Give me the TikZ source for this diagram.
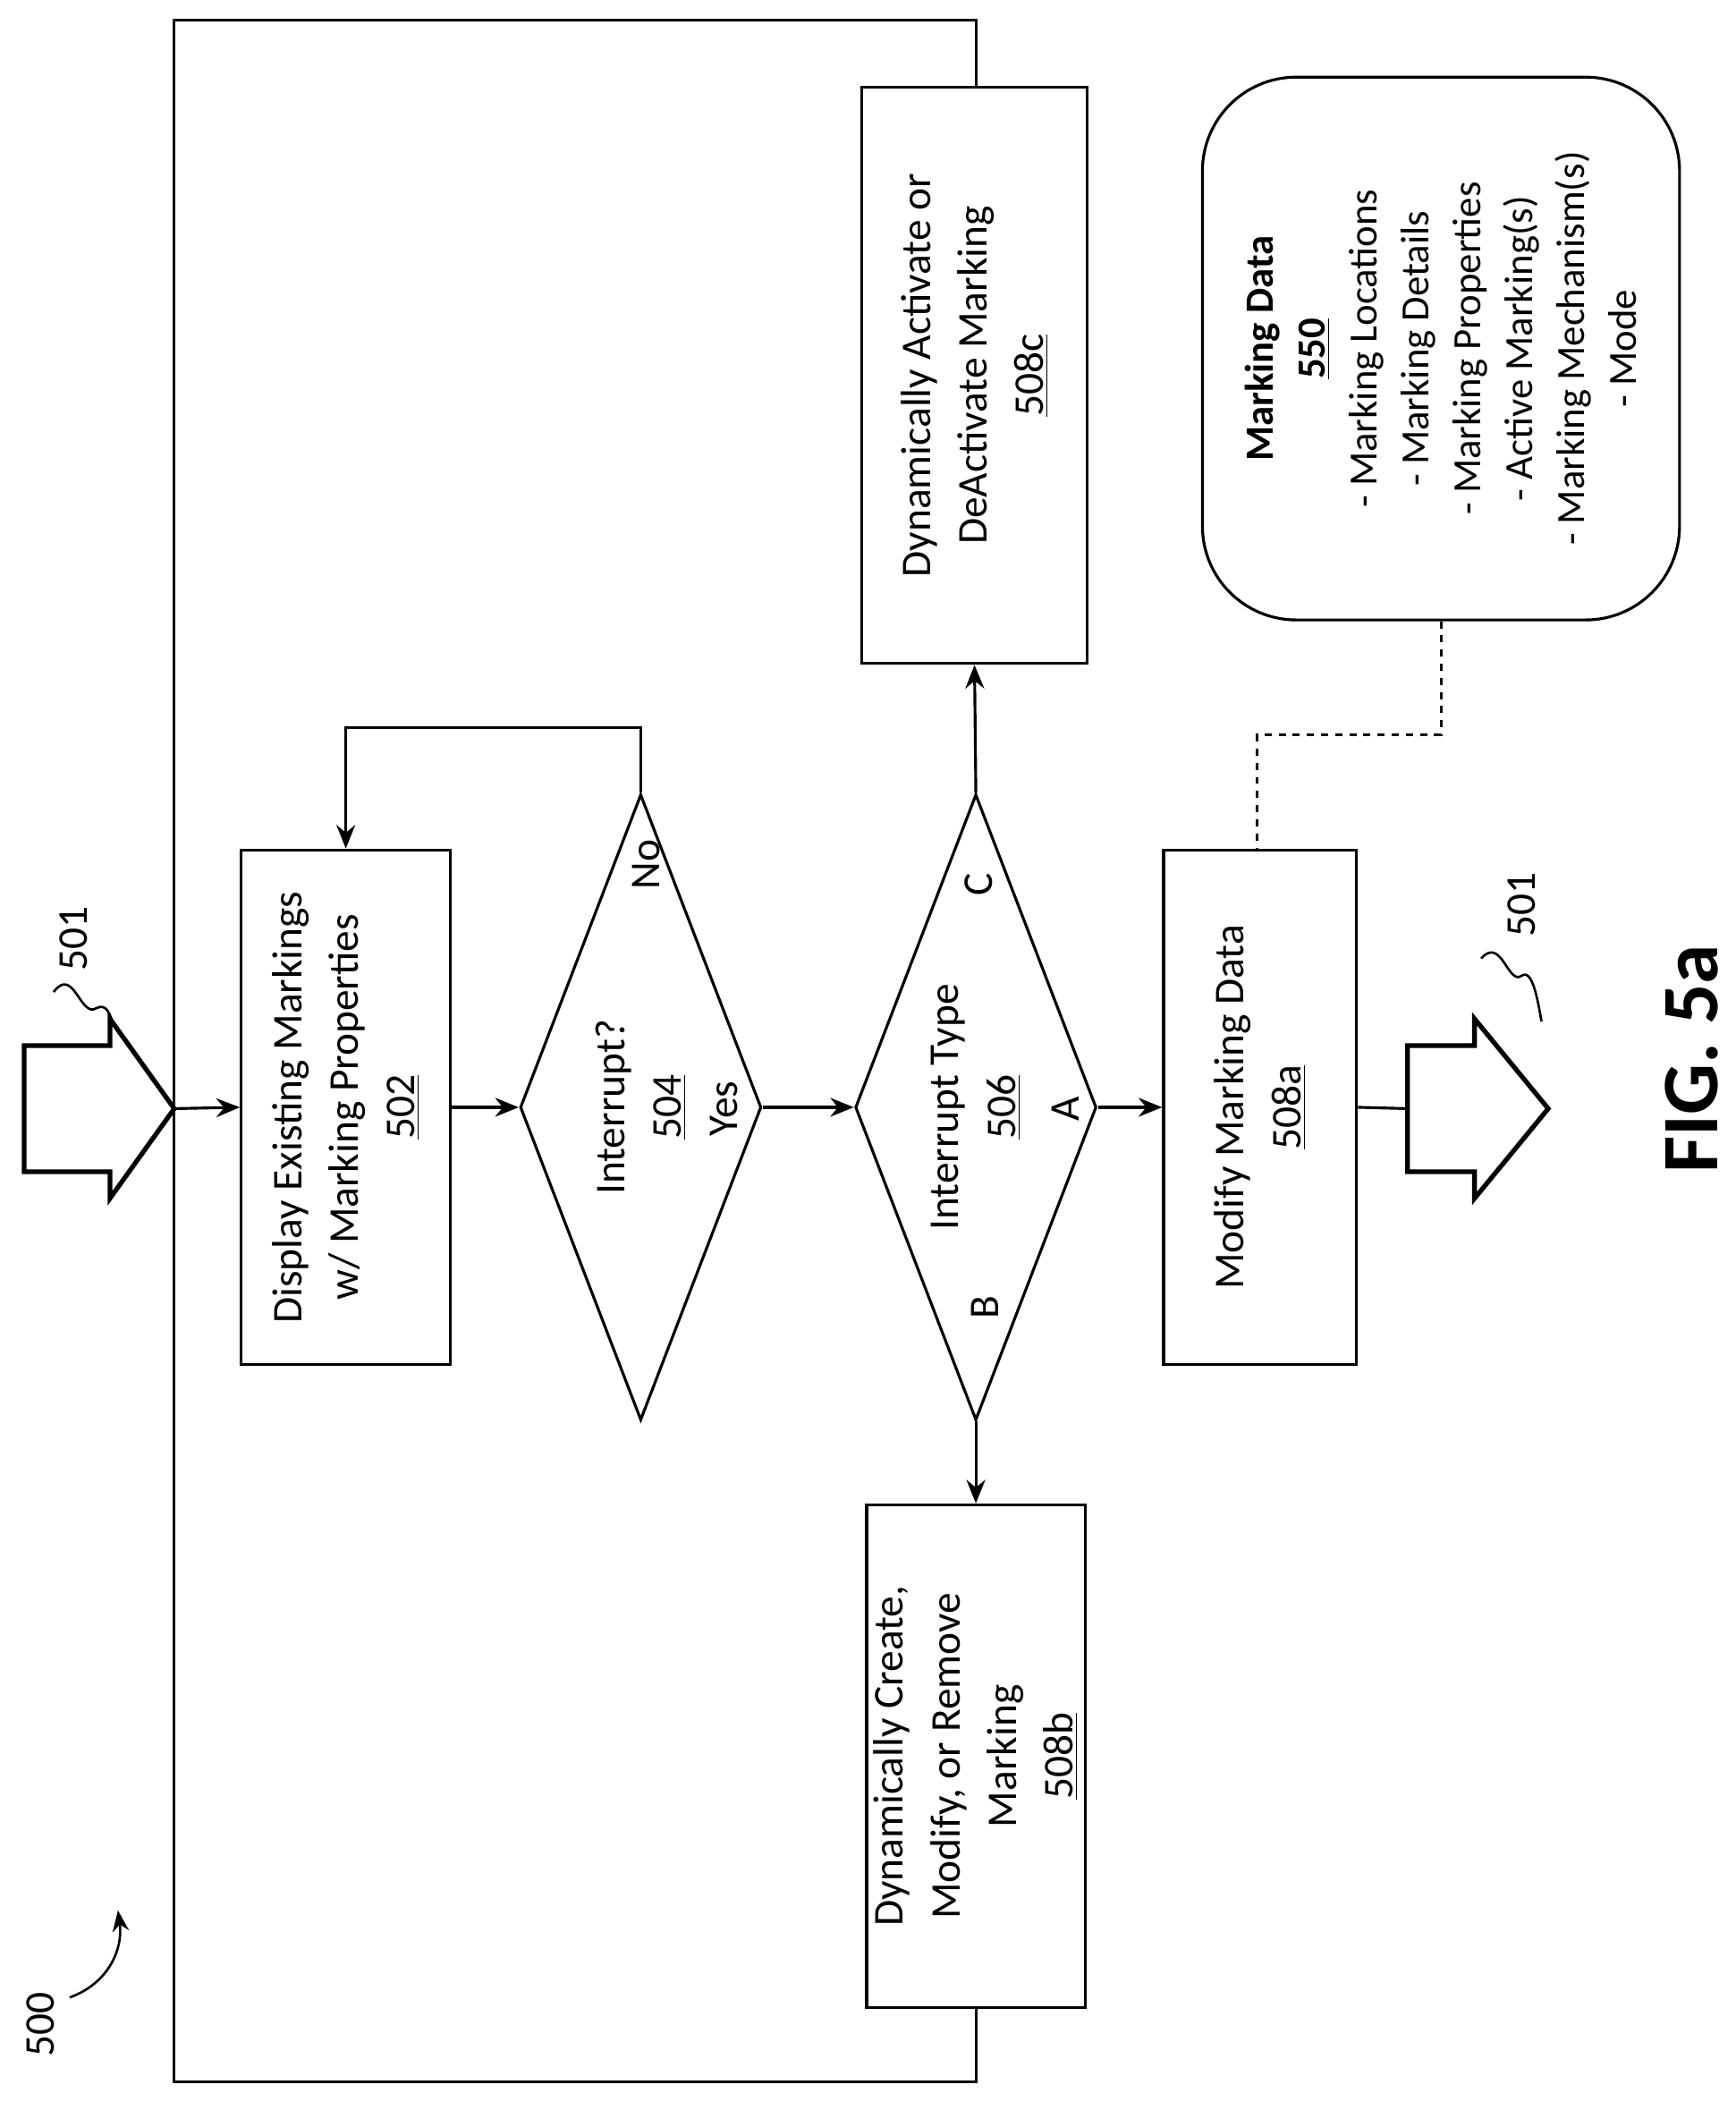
\documentclass[tikz,border=0pt]{standalone}
\usepackage{fontspec}
\setmainfont{Carlito}
\usetikzlibrary{shapes.geometric,arrows.meta}
\tikzset{
  box/.style={draw,line width=1.2pt,inner sep=0pt},
  dia/.style={draw,diamond,line width=1.2pt,inner sep=0pt,minimum width=3.6cm,minimum height=9.34cm},
  txt/.style={rotate=90,align=center,font=\fontsize{18}{24}\selectfont},
  flow/.style={line width=1.2pt,-{Stealth[length=10pt,width=8pt]}},
  bigarrow/.style={draw,line width=2pt,fill=white}
}
\begin{document}
\begin{tikzpicture}[x=0.02cm,y=-0.02cm]
    \useasboundingbox (0,0) rectangle (1295,1574);
    % outer frame
    \draw[line width=1.2pt] (728,65) -- (728,15) -- (130,15) -- (130,1553) -- (728,1553) -- (728,1497);

    % boxes
    \node[box,minimum width=3.12cm,minimum height=7.68cm] (display) at (258,826) {};
    \node[txt] at (display) {Display Existing Markings\\w/ Marking Properties\\\underline{502}};
    \node[dia] (interrupt) at (478,826) {};
    \node[txt] at (interrupt) {Interrupt?\\\underline{504}};
    \node[dia] (itype) at (728,826) {};
    \node[txt] at (itype) {Interrupt Type\\\underline{506}};
    \node[box,minimum width=3.36cm,minimum height=8.6cm] (activate) at (727,280) {};
    \node[txt] at (activate) {Dynamically Activate or\\DeActivate Marking\\\underline{508c}};
    \node[box,minimum width=2.88cm,minimum height=7.68cm] (modify) at (940,826) {};
    \node[txt] at (modify) {Modify Marking Data\\\underline{508a}};
    \node[box,minimum width=3.26cm,minimum height=7.5cm] (create) at (728,1310) {};
    \node[txt] at (create) {Dynamically Create,\\Modify, or Remove\\Marking\\\underline{508b}};
    \node[box,rounded corners=1.4cm,minimum width=7.12cm,minimum height=8.1cm] (mdata) at (1075,260) {};
    \node[txt,font=\fontsize{17}{22}\selectfont] at (mdata) {\textbf{Marking Data}\\\textbf{\underline{550}}\\- Marking Locations\\- Marking Details\\- Marking Properties\\- Active Marking(s)\\- Marking Mechanism(s)\\- Mode};

    % block arrows 501
    \draw[bigarrow] (18,780) -- (82,780) -- (82,760) -- (130,827) -- (82,894) -- (82,874) -- (18,874) -- cycle;
    \draw[bigarrow] (1050,780) -- (1100,780) -- (1100,760) -- (1155,827) -- (1100,894) -- (1100,874) -- (1050,874) -- cycle;
    \node[txt] (lin) at (55,700) {501};
    \node[txt] (lout) at (1135,675) {501};
    \draw[line width=1pt] (40,740) .. controls (55,720) and (60,760) .. (72,752) .. controls (80,748) and (82,758) .. (84,762);
    \draw[line width=1pt] (1105,715) .. controls (1120,698) and (1125,735) .. (1135,728) .. controls (1143,722) and (1147,745) .. (1150,762);

    % flow
    \coordinate (start) at (130,827);
    \draw[flow] (start) -- (display.west);
    \draw[flow] (display.east) -- (interrupt.west);
    \draw[flow] (interrupt.east) -- (itype.west);
    \draw[flow] (itype.east) -- (modify.west);
    \draw[line width=1.2pt] (modify.east) -- (1050,827);
    \draw[flow] (interrupt.north) -- (478,543) -- (258,543) -- (display.north -| 258,0);
    \draw[flow] (itype.north) -- (activate.south);
    \draw[flow] (itype.south) -- (create.north);
    \draw[line width=1.2pt,dashed] (mdata.south) -- (1075,548) -- (938,548) -- (938,634);

    % labels
    \node[txt] at (482,645) {No};
    \node[txt] at (540,827) {Yes};
    \node[txt] at (730,660) {C};
    \node[txt] at (795,827) {A};
    \node[txt] at (735,975) {B};
    \node[txt] (fig) at (1262,790) {\fontsize{34}{40}\selectfont\textbf{FIG. 5a}};
    \node[txt] (num) at (30,1510) {500};
    \draw[line width=1pt,-{Stealth[length=9pt,width=7pt]}] (52,1490) .. controls (80,1480) and (92,1455) .. (88,1425);
\end{tikzpicture}
\end{document}
